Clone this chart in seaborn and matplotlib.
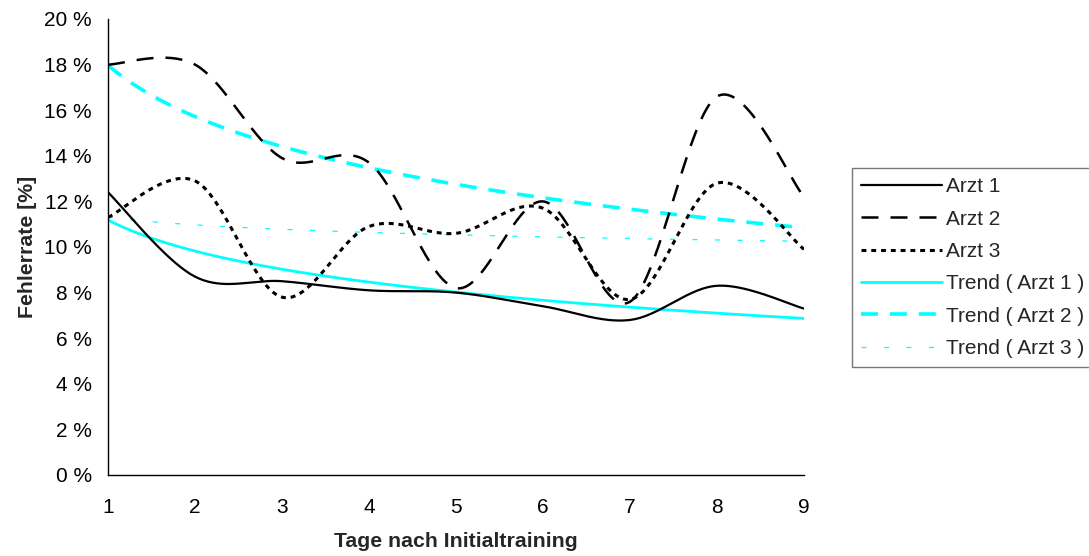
import numpy as np
import pandas as pd
import matplotlib
matplotlib.use("Agg")
import matplotlib.pyplot as plt
import seaborn as sns

# ---- data ----
days = [1, 2, 3, 4, 5, 6, 7, 8, 9]
arzt1 = [12.4, 8.7, 8.5, 8.1, 8.0, 7.4, 6.8, 8.3, 7.3]
arzt2 = [18.0, 18.0, 13.9, 13.7, 8.2, 12.0, 7.6, 16.6, 12.2]
arzt3 = [11.3, 12.9, 7.8, 10.9, 10.6, 11.7, 7.7, 12.8, 9.9]
series_names = ["Arzt 1", "Arzt 2", "Arzt 3"]
trend_names = ["Trend ( Arzt 1 )", "Trend ( Arzt 2 )", "Trend ( Arzt 3 )"]
y_ticks = [0, 2, 4, 6, 8, 10, 12, 14, 16, 18, 20]
x_label = "Tage nach Initialtraining"
y_label = "Fehlerrate [%]"

sns.set_theme(style="white")
plt.rcParams["font.family"] = ["Liberation Sans", "DejaVu Sans"]


def excel_smooth(xs, ys, n=40):
    """Bezier smoothing like spreadsheet 'smoothed line' rendering."""
    P = np.column_stack([xs, ys]).astype(float)
    m = len(P)
    out = []
    for i in range(m - 1):
        p0 = P[max(i - 1, 0)]
        p1 = P[i]
        p2 = P[i + 1]
        p3 = P[min(i + 2, m - 1)]
        c1 = p1 + (p2 - p0) / 6.0
        c2 = p2 - (p3 - p1) / 6.0
        t = np.linspace(0, 1, n, endpoint=(i == m - 2))[:, None]
        seg = ((1 - t) ** 3) * p1 + 3 * ((1 - t) ** 2) * t * c1 + 3 * (1 - t) * t ** 2 * c2 + t ** 3 * p2
        out.append(seg)
    out = np.vstack(out)
    return out[:, 0], out[:, 1]


fig = plt.figure(figsize=(10.89, 5.56), dpi=100)
ax = fig.add_axes([108 / 1089, 1 - 475 / 556, (804 - 108) / 1089, (475 - 19) / 556])

styles = [
    dict(color="black", lw=1.6, ls="-"),
    dict(color="black", lw=1.8, ls=(0, (6.8, 4.8))),
    dict(color="black", lw=2.2, ls=(0, (1.6, 1.6))),
]
tstyles = [
    dict(color="#00FFFF", lw=2.0, ls="-"),
    dict(color="#00FFFF", lw=2.6, ls=(0, (4.7, 3.3))),
    dict(color="#00FFFF", lw=0.9, ls=(0, (4, 14))),
]

handles = []
for name, ys, st in zip(series_names, [arzt1, arzt2, arzt3], styles):
    sx, sy = excel_smooth(days, ys)
    df = pd.DataFrame({"x": sx, "y": sy})
    sns.lineplot(data=df, x="x", y="y", ax=ax, sort=False, estimator=None,
                 color=st["color"], linewidth=st["lw"], linestyle=st["ls"])
    handles.append(ax.lines[-1])

xd = np.linspace(days[0], days[-1], 300)
for name, ys, st in zip(trend_names, [arzt1, arzt2, arzt3], tstyles):
    b, a = np.polyfit(np.log(days), ys, 1)
    df = pd.DataFrame({"x": xd, "y": a + b * np.log(xd)})
    sns.lineplot(data=df, x="x", y="y", ax=ax, sort=False, estimator=None,
                 color=st["color"], linewidth=st["lw"], linestyle=st["ls"])
    handles.append(ax.lines[-1])

# put data lines on top
for h in handles[:3]:
    h.set_zorder(4)

ax.set_xlim(1, 9)
ax.set_ylim(0, 20)
ax.set_xticks(days)
ax.set_xticklabels([str(d) for d in days])
ax.set_yticks(y_ticks)
ax.set_yticklabels([f"{v} %" for v in y_ticks])
for s in ["top", "right"]:
    ax.spines[s].set_visible(False)
for s in ["left", "bottom"]:
    ax.spines[s].set_color("black")
    ax.spines[s].set_linewidth(1.0)
ax.tick_params(axis="both", which="major", direction="inout", length=9, width=1.0,
               color="black", labelsize=15, labelcolor="black")
ax.tick_params(axis="y", pad=7)
ax.tick_params(axis="x", pad=12)
ax.set_xlabel(x_label, fontsize=15.3, fontweight="bold", labelpad=11)
ax.set_ylabel(y_label, fontsize=15.3, fontweight="bold", labelpad=5)
ax.grid(False)

leg = fig.legend(handles, series_names + trend_names, loc="upper left",
                 bbox_to_anchor=(852 / 1089, 1 - 168 / 556), frameon=True,
                 fontsize=15, handlelength=3.85, handletextpad=0.2,
                 labelspacing=0.64, borderpad=0.45, borderaxespad=0, fancybox=False)
leg.get_frame().set_edgecolor("#555555")
leg.get_frame().set_linewidth(1.0)

fig.savefig("out.png", dpi=100)
